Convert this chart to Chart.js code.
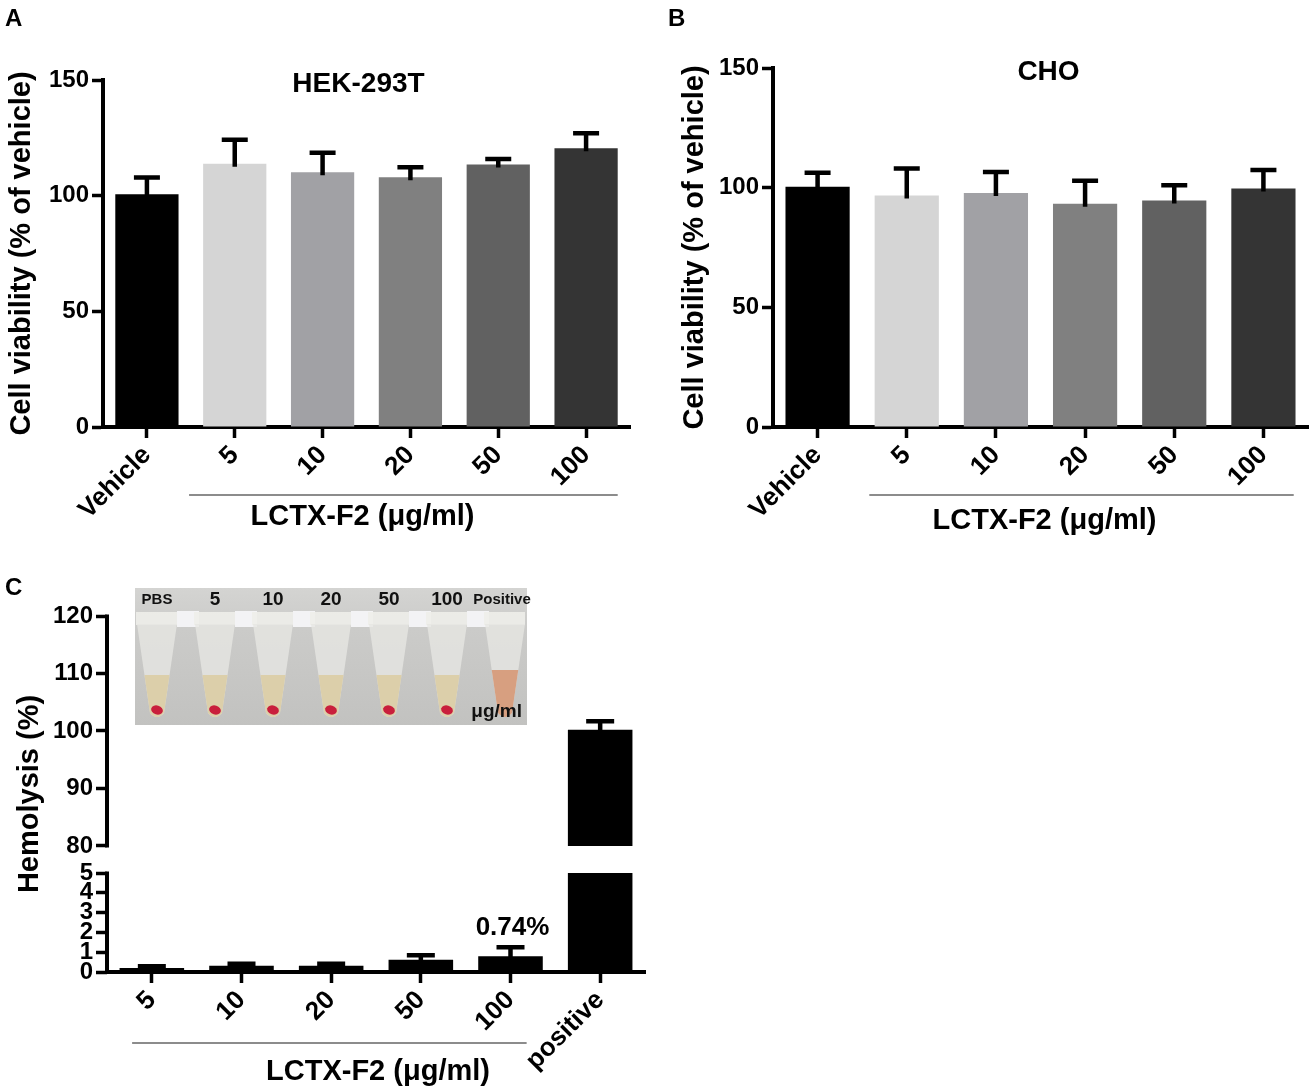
<!DOCTYPE html>
<html>
<head>
<meta charset="utf-8">
<script src="https://cdn.jsdelivr.net/npm/chart.js@4.4.1/dist/chart.umd.min.js"></script>
<style>
  body { margin: 0; background: #fff; width: 1315px; height: 1088px; position: relative; overflow: hidden; }
  canvas { position: absolute; }
</style>
</head>
<body>
<canvas id="chartA" width="655" height="545" style="left:0;top:0"></canvas>
<canvas id="chartB" width="660" height="545" style="left:655px;top:0"></canvas>
<canvas id="chartC" width="660" height="528" style="left:0;top:560px"></canvas>
<script>
// ---- data ----
const cellLabels = ['Vehicle', '5', '10', '20', '50', '100']
const hekMean = [100.6, 113.8, 110.1, 108.0, 113.5, 120.5]
const hekSd = [7.3, 10.4, 8.5, 4.3, 2.4, 6.5]
const choMean = [100.4, 96.7, 97.8, 93.3, 94.6, 99.6]
const choSd = [5.8, 11.3, 8.7, 9.6, 6.4, 7.8]
const viabilityTicks = [0, 50, 100, 150]

const hemoLabels = ['5', '10', '20', '50', '100', 'positive']
const hemoMean = [0.2, 0.32, 0.32, 0.62, 0.8, 100.2]
const hemoSd = [0.09, 0.1, 0.1, 0.22, 0.45, 1.5]
const hemoLowTicks = [0, 1, 2, 3, 4, 5]
const hemoHighTicks = [80, 90, 100, 110, 120]
const hemoNote = '0.74%'
const tubeLabels = ['PBS', '5', '10', '20', '50', '100', 'Positive']

const groupLabel = 'LCTX-F2 (μg/ml)'
const barGreys = ['#000000', '#d5d5d5', '#a1a1a5', '#808080', '#616161', '#343434']

const FONT = "'Liberation Sans', Arial, Helvetica, sans-serif"
Chart.defaults.font.family = FONT
Chart.defaults.font.weight = 'bold'
Chart.defaults.color = '#000'
Chart.defaults.animation = false
Chart.defaults.plugins.legend.display = false
Chart.defaults.plugins.tooltip.enabled = false

// T-shaped error bars (upper half only)
const errorBars = {
  id: 'errorBars',
  afterDatasetsDraw(chart) {
    const ctx = chart.ctx
    chart.data.datasets.forEach((ds, i) => {
      if (!ds.errors) return
      const meta = chart.getDatasetMeta(i)
      const yScale = chart.scales[meta.yAxisID]
      meta.data.forEach((bar, j) => {
        const raw = ds.data[j]
        const sd = ds.errors[j]
        if (raw == null || sd == null) return
        const v = Array.isArray(raw) ? raw[1] : raw
        const yTop = yScale.getPixelForValue(v + sd)
        const cap = ds.capWidth || 26
        ctx.save()
        ctx.strokeStyle = '#000'
        ctx.lineWidth = 4.5
        ctx.beginPath()
        ctx.moveTo(bar.x, yScale.getPixelForValue(v) + 3)
        ctx.lineTo(bar.x, yTop)
        ctx.moveTo(bar.x - cap / 2, yTop)
        ctx.lineTo(bar.x + cap / 2, yTop)
        ctx.stroke()
        ctx.restore()
      })
    })
  }
}

const catAxis = (height) => ({
  offset: true,
  grid: { display: true, offset: false, drawOnChartArea: false, drawTicks: true, tickLength: 11, tickWidth: 3.5, tickColor: '#000' },
  border: { display: true, color: '#000', width: 4 },
  ticks: { font: { size: 26 }, minRotation: 45, maxRotation: 45, padding: 2, autoSkip: false },
  afterFit: s => { s.height = height }
})

const valAxis = (width, min, max, tickValues, extra) => Object.assign({
  type: 'linear',
  position: 'left',
  min: min,
  max: max,
  grid: { drawOnChartArea: false, tickLength: 11, tickWidth: 3.5, tickColor: '#000' },
  border: { display: true, color: '#000', width: 4 },
  ticks: { font: { size: 24 }, padding: 3, autoSkip: false },
  afterBuildTicks: s => { s.ticks = tickValues.map(v => ({ value: v })) },
  afterFit: s => { s.width = width }
}, extra)

const drawGroup = (ctx, x1, x2, yl, cx, yt) => {
  ctx.strokeStyle = '#666'
  ctx.lineWidth = 1.6
  ctx.beginPath()
  ctx.moveTo(x1, yl)
  ctx.lineTo(x2, yl)
  ctx.stroke()
  ctx.fillStyle = '#000'
  ctx.font = `bold 29px ${FONT}`
  ctx.textAlign = 'center'
  ctx.textBaseline = 'middle'
  ctx.fillText(groupLabel, cx, yt)
}

// panel letter, in-plot title, bracket line and group label
const decor = (cfg) => ({
  id: 'decor',
  afterDraw(chart) {
    const { ctx, chartArea } = chart
    const x = chart.scales.x
    const mid = (chartArea.left + chartArea.right) / 2
    ctx.save()
    ctx.fillStyle = '#000'
    ctx.font = `bold 24px ${FONT}`
    ctx.textAlign = 'left'
    ctx.textBaseline = 'top'
    ctx.fillText(cfg.letter, cfg.letterX, cfg.letterY)

    ctx.font = `bold 28px ${FONT}`
    ctx.textAlign = 'center'
    ctx.textBaseline = 'middle'
    ctx.fillText(cfg.title, mid + cfg.titleDx, chartArea.top + cfg.titleDy)

    const w = x.getPixelForValue(1) - x.getPixelForValue(0)
    drawGroup(ctx,
      x.getPixelForValue(cfg.from) + cfg.ends[0] * w,
      x.getPixelForValue(cfg.to) + cfg.ends[1] * w,
      chartArea.bottom + cfg.lineDy,
      mid + cfg.labelDx, chartArea.bottom + cfg.labelDy)
    ctx.restore()
  }
})

const viabilityChart = (id, means, sds, title, pad, yWidth, titlePad, deco) => new Chart(id, {
  type: 'bar',
  data: {
    labels: cellLabels,
    datasets: [{
      data: means,
      errors: sds,
      backgroundColor: barGreys,
      borderWidth: 0,
      barPercentage: 0.72,
      categoryPercentage: 1
    }]
  },
  options: {
    responsive: false,
    layout: { padding: { left: 0, top: pad.top, right: pad.right, bottom: 0 } },
    scales: {
      x: catAxis(118),
      y: valAxis(yWidth, 0, 150, viabilityTicks, {
        title: { display: true, text: 'Cell viability (% of vehicle)', font: { size: 29 }, padding: { top: titlePad, bottom: 0 } }
      })
    }
  },
  plugins: [errorBars, decor(Object.assign({ title: title }, deco))]
})

viabilityChart('chartA', hekMean, hekSd, 'HEK-293T', { top: 80, right: 25 }, 103, 5,
  { letter: 'A', letterX: 5, letterY: 7, titleDx: -8, titleDy: 4, from: 1, to: 5, ends: [-0.52, 0.36], lineDy: 68, labelDx: -4, labelDy: 90 })

viabilityChart('chartB', choMean, choSd, 'CHO', { top: 68, right: 7 }, 118, 23,
  { letter: 'B', letterX: 13, letterY: 7, titleDx: 8, titleDy: 4, from: 1, to: 5, ends: [-0.42, 0.34], lineDy: 68, labelDx: 4, labelDy: 94 })

// ---- panel C: broken axis ----
const lowMax = 5
const highMin = 80
const hemoLow = hemoMean.map(v => Math.min(v, lowMax))
const hemoLowSd = hemoMean.map((v, i) => v < lowMax ? hemoSd[i] : null)
const hemoHigh = hemoMean.map(v => v > highMin ? [highMin, v] : null)
const hemoHighSd = hemoMean.map((v, i) => v > highMin ? hemoSd[i] : null)

const drawInset = (ctx, x0, y0, w, h) => {
  const g = ctx.createLinearGradient(0, y0, 0, y0 + h)
  g.addColorStop(0, '#d4d4d2')
  g.addColorStop(0.3, '#cbcbc9')
  g.addColorStop(1, '#c2c2c0')
  ctx.fillStyle = g
  ctx.fillRect(x0, y0, w, h)
  const last = tubeLabels.length - 1
  const step = (w - 44) / last
  tubeLabels.forEach((lab, i) => {
    const cx = x0 + 22 + i * step
    const top = y0 + 36
    const bottom = y0 + 131
    if (i < last) {
      ctx.fillStyle = '#f3f3f5'
      ctx.fillRect(cx + 20, y0 + 23, 22, 16)
    }
    ctx.fillStyle = 'rgba(238,238,234,0.9)'
    ctx.fillRect(cx - 21, y0 + 24, 41, 13)
    ctx.beginPath()
    ctx.moveTo(cx - 20, top)
    ctx.lineTo(cx + 20, top)
    ctx.lineTo(cx + 7, bottom - 6)
    ctx.quadraticCurveTo(cx, bottom + 2, cx - 7, bottom - 6)
    ctx.closePath()
    ctx.fillStyle = 'rgba(230,230,226,0.8)'
    ctx.fill()
    ctx.save()
    ctx.clip()
    ctx.fillStyle = i === last ? '#d79f80' : '#dccfaa'
    ctx.fillRect(cx - 22, y0 + (i === last ? 82 : 87), 44, 60)
    ctx.restore()
    if (i < last) {
      ctx.fillStyle = '#c91f3c'
      ctx.beginPath()
      ctx.ellipse(cx, y0 + 122, 6, 4.5, 0.3, 0, 2 * Math.PI)
      ctx.fill()
    }
    ctx.fillStyle = '#111'
    ctx.textAlign = 'center'
    ctx.textBaseline = 'middle'
    ctx.font = (lab.length >= 3 && isNaN(lab) ? 'bold 15px ' : 'bold 19px ') + FONT
    ctx.fillText(lab, cx - (i === last ? 3 : 0), y0 + 12)
  })
  ctx.font = `bold 19px ${FONT}`
  ctx.textAlign = 'right'
  ctx.fillText('μg/ml', x0 + w - 5, y0 + 124)
}

const hemoDecor = {
  id: 'hemoDecor',
  afterDraw(chart) {
    const { ctx, chartArea } = chart
    const hi = chart.scales.yHigh
    const lo = chart.scales.yLow
    const x = chart.scales.x
    ctx.save()
    // broken y axis line
    ctx.strokeStyle = '#000'
    ctx.lineWidth = 4
    ctx.beginPath()
    ctx.moveTo(chartArea.left, hi.getPixelForValue(hemoHighTicks[hemoHighTicks.length - 1]) - 1.5)
    ctx.lineTo(chartArea.left, hi.getPixelForValue(highMin) + 1.5)
    ctx.moveTo(chartArea.left, lo.getPixelForValue(lowMax) - 1.5)
    ctx.lineTo(chartArea.left, lo.getPixelForValue(0) + 2)
    ctx.stroke()

    // y title across both segments
    ctx.fillStyle = '#000'
    ctx.font = `bold 29px ${FONT}`
    ctx.textAlign = 'center'
    ctx.textBaseline = 'middle'
    ctx.translate(30, (chartArea.top + chartArea.bottom) / 2)
    ctx.rotate(-Math.PI / 2)
    ctx.fillText('Hemolysis (%)', 0, 0)
    ctx.setTransform(1, 0, 0, 1, 0, 0)

    // annotation above the 100 µg/ml bar
    const k = 4
    const bar = chart.getDatasetMeta(0).data[k]
    ctx.font = `bold 26px ${FONT}`
    ctx.textBaseline = 'bottom'
    ctx.fillText(hemoNote, bar.x + 2, lo.getPixelForValue(hemoMean[k] + hemoSd[k]) - 6)

    // panel letter
    ctx.font = `bold 24px ${FONT}`
    ctx.textAlign = 'left'
    ctx.textBaseline = 'top'
    ctx.fillText('C', 5, 16)

    // bracket + group label
    const w = x.getPixelForValue(1) - x.getPixelForValue(0)
    drawGroup(ctx,
      x.getPixelForValue(0) - 0.22 * w,
      x.getPixelForValue(4) + 0.18 * w,
      chartArea.bottom + 71,
      (chartArea.left + chartArea.right) / 2 + 2, chartArea.bottom + 100)

    // photo inset
    drawInset(ctx, chartArea.left + 28, chartArea.top - 28, 392, 137)
    ctx.restore()
  }
}

new Chart('chartC', {
  type: 'bar',
  data: {
    labels: hemoLabels,
    datasets: [{
      data: hemoLow,
      errors: hemoLowSd,
      yAxisID: 'yLow',
      grouped: false,
      backgroundColor: '#000',
      borderWidth: 0,
      barPercentage: 0.72,
      categoryPercentage: 1,
      capWidth: 28
    }, {
      data: hemoHigh,
      errors: hemoHighSd,
      yAxisID: 'yHigh',
      grouped: false,
      backgroundColor: '#000',
      borderWidth: 0,
      barPercentage: 0.72,
      categoryPercentage: 1,
      capWidth: 28
    }]
  },
  options: {
    responsive: false,
    layout: { padding: { left: 0, top: 56, right: 15, bottom: 0 } },
    scales: {
      x: catAxis(116),
      // left boxes are stacked bottom-up: the first one listed ends up lowest
      yLow: valAxis(107, 0, lowMax, hemoLowTicks, { stack: 'hemo', stackWeight: 99, border: { display: false } }),
      yHigh: valAxis(107, 75.3, 120, hemoHighTicks, { stack: 'hemo', stackWeight: 257, border: { display: false } })
    }
  },
  plugins: [errorBars, hemoDecor]
})
</script>
</body>
</html>
